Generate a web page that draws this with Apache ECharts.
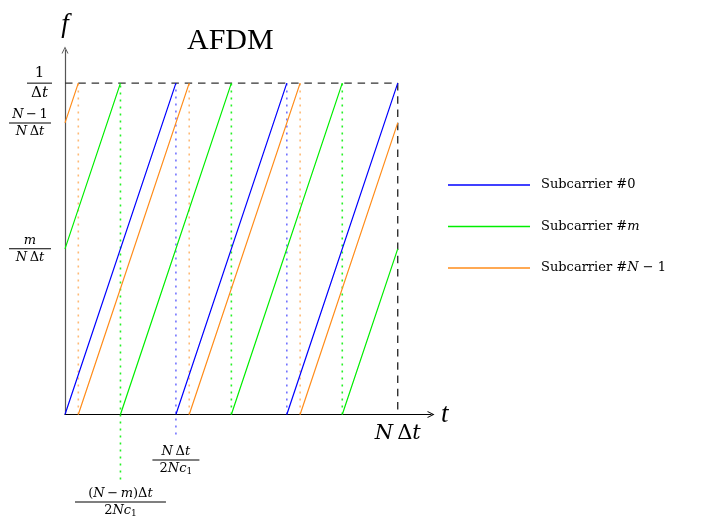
<!DOCTYPE html>
<html><head><meta charset="utf-8">
<script src="https://cdn.jsdelivr.net/npm/echarts@6/dist/echarts.min.js"></script>
<style>html,body{margin:0;padding:0;background:#fff}#c{width:707px;height:518px}</style>
</head><body><div id="c"></div>
<script>
// ---------- data ----------
const seriesNames = ['Subcarrier #0', 'Subcarrier #m', 'Subcarrier #N − 1'];
const seriesColors = ['#0000ff', '#00ee00', '#ff8c1a'];
// chirp vertices [t, f]; '-' breaks the line at a wrap-around
const sub0  = [[0,0],[1,1],[1,'-'],[1,0],[2,1],[2,'-'],[2,0],[3,1]];
const subM  = [[0,0.5],[0.5,1],[0.5,'-'],[0.5,0],[1.5,1],[1.5,'-'],[1.5,0],[2.5,1],[2.5,'-'],[2.5,0],[3,0.5]];
const subN1 = [[0,0.88],[0.12,1],[0.12,'-'],[0.12,0],[1.12,1],[1.12,'-'],[1.12,0],[2.12,1],[2.12,'-'],[2.12,0],[3,0.88]];
// dotted wrap guides: [t, fFrom, fTo]
const guide0  = [[1,-0.06,1],[2,0,1]];
const guideM  = [[0.5,-0.196,1],[1.5,0,1],[2.5,0,1]];
const guideN1 = [[0.12,0,1],[1.12,0,1],[2.12,0,1]];
// dashed frame
const frame = [[0,1],[3,1],[3,0]];
// ticks
const yTickValues = [0.5, 0.88, 1];
const xTickValues = [1, 3];
const xTickValuesLow = [0.5];

// ---------- helpers ----------
const SERIF = 'DejaVu Serif';
function mathTokens(str, sz) {
  let out = '', cur = '', cls = null;
  const flush = () => { if (cur) out += '{' + cls + sz + '|' + cur + '}'; cur = ''; };
  for (const ch of str) {
    if (ch === '₁') { flush(); out += '{s' + sz + '|1}'; cls = null; continue; }
    const c = /[A-Za-z]/.test(ch) ? 'i' : 'u';
    if (c !== cls) { flush(); cls = c; }
    cur += ch;
  }
  flush();
  return out;
}
function frac(num, den, barW, sz, pre) {
  pre = pre || '';
  return pre + mathTokens(num, sz) + '\n' + pre + '{bar' + barW + '| }\n' + pre + mathTokens(den, sz);
}
const rich = {};
[[13, 14], [15, 17], [21, 26]].forEach(([s, lh]) => {
  rich['i' + s] = { fontFamily: SERIF, fontStyle: 'italic', fontSize: s, lineHeight: lh, color: '#000' };
  rich['u' + s] = { fontFamily: SERIF, fontSize: s, lineHeight: lh, color: '#000' };
  rich['s' + s] = { fontFamily: SERIF, fontSize: Math.round(s * 0.72), lineHeight: lh, padding: [6, 0, 0, 0], color: '#000' };
});
[25, 42, 47, 91].forEach(w => {
  rich['bar' + w] = { width: w, height: 1, lineHeight: 3, fontSize: 1, backgroundColor: '#000' };
});
[6, 24, 66].forEach(h => { rich['sp' + h] = { fontSize: 1, lineHeight: h }; });
rich.g19 = { width: 19, fontSize: 1, lineHeight: 1 };

const TH = '\u2009';
const yLabelText = {
  0.5: frac('m', 'N' + TH + 'Δt', 42, 13),
  0.88: frac('N' + TH + '−' + TH + '1', 'N' + TH + 'Δt', 42, 13),
  1: frac('1', 'Δt', 25, 15, '{g19| }')
};
const xLabelText = {
  0.5: '{sp66| }\n' + frac('(N' + TH + '−' + TH + 'm)Δt', '2Nc₁', 91, 13),
  1: '{sp24| }\n' + frac('N' + TH + 'Δt', '2Nc₁', 47, 13),
  3: mathTokens('N' + TH + 'Δt', 21)
};
function nearest(map, v) {
  let best = null, bd = 1e9;
  Object.keys(map).forEach(k => { const d = Math.abs(+k - v); if (d < bd) { bd = d; best = k; } });
  return map[best];
}
function guideData(g) {
  const d = [];
  g.forEach(([x, a, b]) => { d.push([x, a], [x, b], [x, '-']); });
  return d;
}
const chev = 'path://M0,10 L5,0 L10,10 L8.6,10 L5,2.8 L1.4,10 Z';
const xAxisBase = {
  type: 'value', min: 0, max: 3.3, gridIndex: 0,
  axisTick: { show: false }, splitLine: { show: false }
};

const chart = echarts.init(document.getElementById('c'));
chart.setOption({
  animation: false,
  backgroundColor: '#fff',
  title: {
    text: 'AFDM', left: 182, top: 21,
    textStyle: { fontFamily: 'Liberation Serif', fontWeight: 'normal', fontSize: 30, color: '#000' }
  },
  legend: {
    orient: 'vertical', left: 443, top: 173,
    icon: 'rect', itemWidth: 82, itemHeight: 1.4, itemGap: 27.5,
    data: seriesNames,
    formatter: n => n === 'Subcarrier #0' ? '{t|Subcarrier #0}'
      : n === 'Subcarrier #m' ? '{t|Subcarrier #}{m|m}'
      : '{t|Subcarrier #}{m|N}{t| − 1}',
    textStyle: {
      padding: [0, 0, 0, 6], lineHeight: 14,
      rich: {
        t: { fontFamily: 'DejaVu Serif', fontSize: 13, lineHeight: 14, color: '#000' },
        m: { fontFamily: 'DejaVu Serif', fontStyle: 'italic', fontSize: 13, lineHeight: 14, color: '#000' }
      }
    }
  },
  grid: { left: 65, right: 276, top: 50, bottom: 103 },
  xAxis: [
    Object.assign({}, xAxisBase, {
      name: 't', nameLocation: 'end', nameGap: 10,
      nameTextStyle: { fontFamily: 'Liberation Serif', fontStyle: 'italic', fontSize: 27, color: '#000', verticalAlign: 'middle', align: 'left' },
      axisLine: { lineStyle: { color: '#000', width: 1.2 }, symbol: ['none', chev], symbolSize: [10, 7] },
      axisLabel: {
        customValues: xTickValues, margin: 6, align: 'center', verticalAlign: 'top', hideOverlap: false,
        formatter: v => nearest(xLabelText, v), rich: rich
      }
    }),
    Object.assign({}, xAxisBase, {
      position: 'bottom', offset: 0,
      axisLine: { show: false },
      axisLabel: {
        customValues: xTickValuesLow, margin: 6, align: 'center', verticalAlign: 'top', hideOverlap: false,
        formatter: v => nearest(xLabelText, v), rich: rich
      }
    })
  ],
  yAxis: {
    type: 'value', min: 0, max: 1.1,
    name: 'f', nameLocation: 'end', nameGap: 12,
    nameTextStyle: { fontFamily: 'Liberation Serif', fontStyle: 'italic', fontSize: 27, color: '#000', align: 'center' },
    axisLine: { lineStyle: { color: '#555', width: 1.2 }, symbol: ['none', chev], symbolSize: [10, 7] },
    axisTick: { show: false },
    splitLine: { show: false },
    axisLabel: {
      customValues: yTickValues, margin: 35, align: 'center', verticalAlign: 'middle',
      formatter: v => nearest(yLabelText, v), rich: rich
    }
  },
  series: [
    { name: 'guide0', type: 'line', data: guideData(guide0), symbol: 'none', clip: false, silent: true,
      lineStyle: { color: '#0000ff', width: 1.6, opacity: 0.55, type: [2, 5] }, z: 1 },
    { name: 'guideM', type: 'line', data: guideData(guideM), symbol: 'none', clip: false, silent: true,
      lineStyle: { color: '#00ee00', width: 1.6, opacity: 0.85, type: [2, 5] }, z: 1 },
    { name: 'guideN1', type: 'line', data: guideData(guideN1), symbol: 'none', clip: false, silent: true,
      lineStyle: { color: '#ff8c1a', width: 1.6, opacity: 0.6, type: [2, 5] }, z: 1 },
    { name: 'frame', type: 'line', data: frame, symbol: 'none', silent: true,
      lineStyle: { color: '#333', width: 1.4, type: [7.5, 5.8] }, z: 2 },
    { name: seriesNames[0], type: 'line', data: sub0, symbol: 'none', color: seriesColors[0],
      lineStyle: { width: 1.2 }, z: 3 },
    { name: seriesNames[1], type: 'line', data: subM, symbol: 'none', color: seriesColors[1],
      lineStyle: { width: 1.2 }, z: 3 },
    { name: seriesNames[2], type: 'line', data: subN1, symbol: 'none', color: seriesColors[2],
      lineStyle: { width: 1.2 }, z: 3 }
  ]
});
</script></body></html>
